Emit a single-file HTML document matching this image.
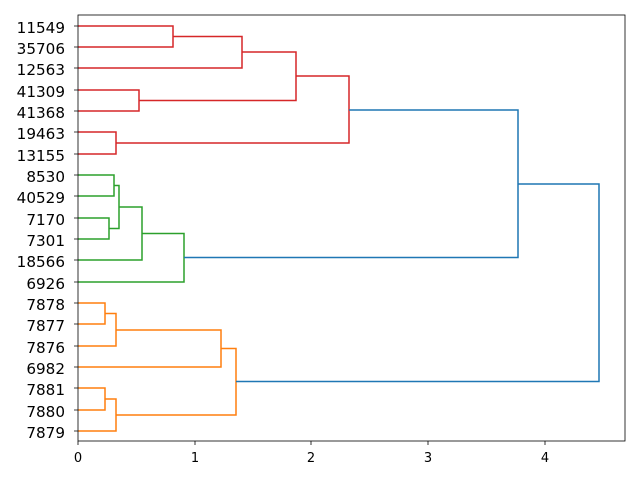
<!DOCTYPE html>
<html><head><meta charset="utf-8"><style>
html,body{margin:0;padding:0;background:#fff}
svg{display:block}
text{font-family:"DejaVu Sans","Liberation Sans",sans-serif;fill:#000}
</style></head><body>
<svg width="640" height="480" viewBox="0 0 640 480" xmlns="http://www.w3.org/2000/svg">
<rect x="0" y="0" width="640" height="480" fill="#fff"/>
<g fill="none" stroke-width="1.5">
<g stroke="#d62728">
<path d="M78 26H173V47H78"/>
<path d="M173 36.5H242V68H78"/>
<path d="M78 90H139V111H78"/>
<path d="M242 52H296V100.5H139"/>
<path d="M78 132H116V154H78"/>
<path d="M296 76H349V143H116"/>
</g>
<g stroke="#2ca02c">
<path d="M78 175H114V196H78"/>
<path d="M78 218H109V239H78"/>
<path d="M114 185.5H119V228.5H109"/>
<path d="M119 207H142V260H78"/>
<path d="M142 233.5H184V282H78"/>
</g>
<g stroke="#ff7f0e">
<path d="M78 303H105V324H78"/>
<path d="M105 313.5H116V346H78"/>
<path d="M116 330H221V367H78"/>
<path d="M78 388H105V410H78"/>
<path d="M105 399H116V431H78"/>
<path d="M221 348.5H236V415H116"/>
</g>
<g stroke="#1f77b4">
<path d="M349 110H518V257.5H184"/>
<path d="M518 184H599V381.5H236"/>
</g>
</g>
<rect x="78" y="15" width="547" height="426" fill="none" stroke="#000" stroke-width="0.8"/>
<g stroke="#000" stroke-width="0.8">
<path d="M78 441v4M195 441v4M311 441v4M428 441v4M545 441v4"/>
<path d="M78 26h-4M78 47h-4M78 68h-4M78 90h-4M78 111h-4M78 132h-4M78 154h-4M78 175h-4M78 196h-4M78 218h-4M78 239h-4M78 260h-4M78 282h-4M78 303h-4M78 324h-4M78 346h-4M78 367h-4M78 388h-4M78 410h-4M78 431h-4"/>
</g>
<g font-size="13" text-anchor="middle">
<text x="78" y="462">0</text><text x="195" y="462">1</text><text x="311" y="462">2</text><text x="428" y="462">3</text><text x="545" y="462">4</text>
</g>
<g font-size="15.2" text-anchor="end">
<text x="65" y="33">11549</text>
<text x="65" y="54">35706</text>
<text x="65" y="75">12563</text>
<text x="65" y="97">41309</text>
<text x="65" y="118">41368</text>
<text x="65" y="139">19463</text>
<text x="65" y="161">13155</text>
<text x="65" y="182">8530</text>
<text x="65" y="203">40529</text>
<text x="65" y="225">7170</text>
<text x="65" y="246">7301</text>
<text x="65" y="267">18566</text>
<text x="65" y="289">6926</text>
<text x="65" y="310">7878</text>
<text x="65" y="331">7877</text>
<text x="65" y="353">7876</text>
<text x="65" y="374">6982</text>
<text x="65" y="395">7881</text>
<text x="65" y="417">7880</text>
<text x="65" y="438">7879</text>
</g>
</svg>
</body></html>
